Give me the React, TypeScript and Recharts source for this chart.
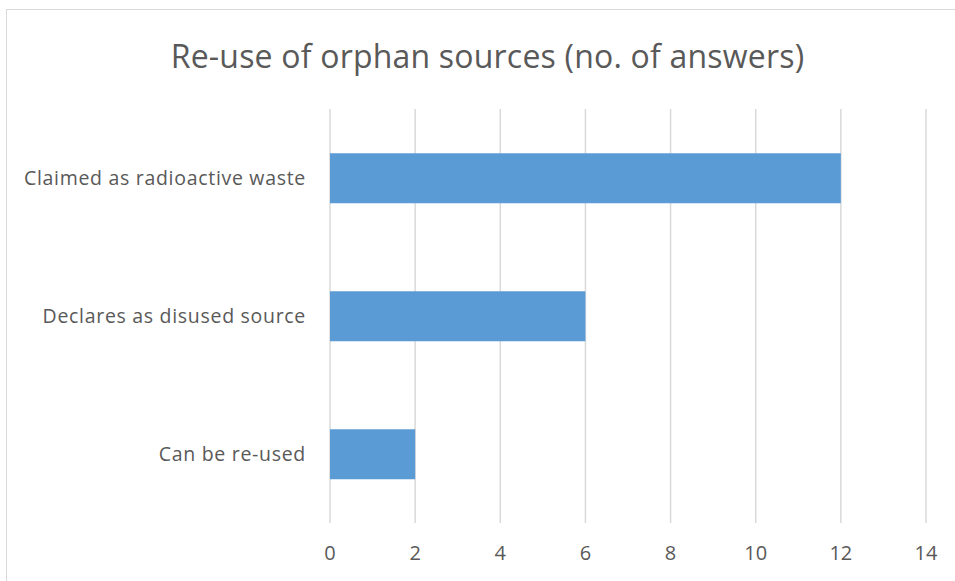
import { Bar, BarChart, CartesianGrid, XAxis, YAxis } from "recharts";

const categories = ["Claimed as radioactive waste", "Declares as disused source", "Can be re-used"];
const answers = [12, 6, 2];
const xTicks = [0, 2, 4, 6, 8, 10, 12, 14];

const data = categories.map((name, i) => ({ name, answers: answers[i] }));

const FONT = "'Open Sans', sans-serif";
const TEXT = "#595959";
const GRID = "#D9D9D9";

export default function App() {
  return (
    <div style={{ position: "absolute", left: 0, top: 0, width: 955, height: 581, background: "#fff", overflow: "hidden", fontFamily: FONT }}>
      <div style={{ position: "absolute", left: 6, top: 9, width: 970, height: 600, border: `1.5px solid ${GRID}` }} />
      <div style={{ position: "absolute", left: 0, top: 34, width: 975, textAlign: "center", fontSize: 32, color: TEXT, letterSpacing: 0.2 }}>
        Re-use of orphan sources (no. of answers)
      </div>
      <div style={{ position: "absolute", left: 0, top: 0 }}>
        <BarChart
          width={955}
          height={581}
          data={data}
          layout="vertical"
          margin={{ top: 109, right: 29, bottom: 0, left: 0 }}
          barCategoryGap="32%"
        >
          <CartesianGrid horizontal={false} stroke={GRID} strokeWidth={1.5} />
          <XAxis
            type="number"
            domain={[0, 14]}
            ticks={xTicks}
            axisLine={false}
            tickLine={false}
            height={58}
            tickMargin={17}
            tick={{ fill: TEXT, fontSize: 20, fontFamily: FONT }}
          />
          <YAxis
            type="category"
            dataKey="name"
            width={330}
            axisLine={false}
            tickLine={false}
            tickMargin={18}
            tick={{ fill: TEXT, fontSize: 19.5, fontFamily: FONT, letterSpacing: 0.7 }}
          />
          <Bar dataKey="answers" fill="#5B9BD5" isAnimationActive={false} />
        </BarChart>
      </div>
    </div>
  );
}
